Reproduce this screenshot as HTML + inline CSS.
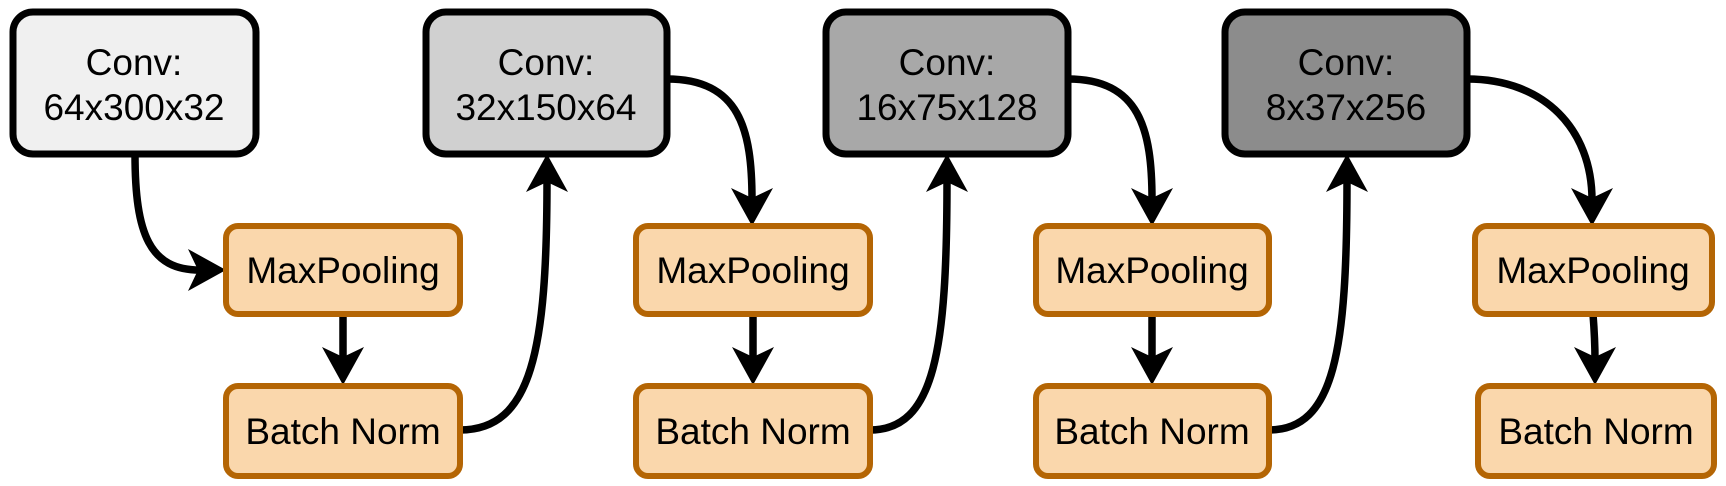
<!DOCTYPE html>
<html><head><meta charset="utf-8"><style>
html,body{margin:0;padding:0;background:#fff;}
svg{display:block}
text{font-family:"Liberation Sans",Arial,sans-serif;font-size:37px;fill:#000;text-anchor:middle}
</style></head><body>
<svg width="1726" height="486" viewBox="0 0 1726 486" xmlns="http://www.w3.org/2000/svg">
<g fill="none" stroke="#000" stroke-width="7.5">
<path d="M135,154 C135,235 150,270 200,270"/>
<path d="M343,314 L343,360"/>
<path d="M460,430 C532,430 547,350 547,180"/>
<path d="M667,79 C740,79 752,130 752,200"/>
<path d="M753,314 L753,360"/>
<path d="M870,430 C935,430 947,350 947,180"/>
<path d="M1068,79 C1140,79 1152,130 1152,200"/>
<path d="M1152,314 L1152,360"/>
<path d="M1269,430 C1335,430 1347,350 1347,180"/>
<path d="M1467,79 C1545,79 1592,130 1592,200"/>
<path d="M1593,314 C1595,340 1595,350 1595,360"/>
</g>
<g fill="#000">
<polygon points="226,270 188,249 198,270 188,291"/>
<polygon points="343,385 322,347 343,357 364,347"/>
<polygon points="547,154 526,192 547,182 568,192"/>
<polygon points="752,226 731,188 752,198 773,188"/>
<polygon points="753,385 732,347 753,357 774,347"/>
<polygon points="947,154 926,192 947,182 968,192"/>
<polygon points="1152,226 1131,188 1152,198 1173,188"/>
<polygon points="1152,385 1131,347 1152,357 1173,347"/>
<polygon points="1347,154 1326,192 1347,182 1368,192"/>
<polygon points="1592,226 1571,188 1592,198 1613,188"/>
<polygon points="1595,385 1574,347 1595,357 1616,347"/>
</g>
<g stroke="#000" stroke-width="7">
<rect x="13" y="12" width="243" height="142" rx="20" fill="#f0f0f0"/>
<rect x="426" y="12" width="241" height="142" rx="20" fill="#d0d0d0"/>
<rect x="826" y="12" width="242" height="142" rx="20" fill="#a8a8a8"/>
<rect x="1225" y="12" width="242" height="142" rx="20" fill="#8c8c8c"/>
</g>
<g stroke="#b46504" stroke-width="6" fill="#fad7ac">
<rect x="226" y="226" width="234" height="88" rx="12"/>
<rect x="636" y="226" width="234" height="88" rx="12"/>
<rect x="1036" y="226" width="233" height="88" rx="12"/>
<rect x="1475" y="226" width="237" height="88" rx="12"/>
<rect x="226" y="386" width="234" height="90" rx="12"/>
<rect x="636" y="386" width="234" height="90" rx="12"/>
<rect x="1036" y="386" width="233" height="90" rx="12"/>
<rect x="1478" y="386" width="236" height="90" rx="12"/>
</g>
<text x="134" y="75">Conv:</text><text x="134" y="120">64x300x32</text>
<text x="546" y="75">Conv:</text><text x="546" y="120">32x150x64</text>
<text x="947" y="75">Conv:</text><text x="947" y="120">16x75x128</text>
<text x="1346" y="75">Conv:</text><text x="1346" y="120">8x37x256</text>
<text x="343" y="283">MaxPooling</text>
<text x="753" y="283">MaxPooling</text>
<text x="1152" y="283">MaxPooling</text>
<text x="1593" y="283">MaxPooling</text>
<text x="343" y="444">Batch Norm</text>
<text x="753" y="444">Batch Norm</text>
<text x="1152" y="444">Batch Norm</text>
<text x="1596" y="444">Batch Norm</text>
</svg>
</body></html>
